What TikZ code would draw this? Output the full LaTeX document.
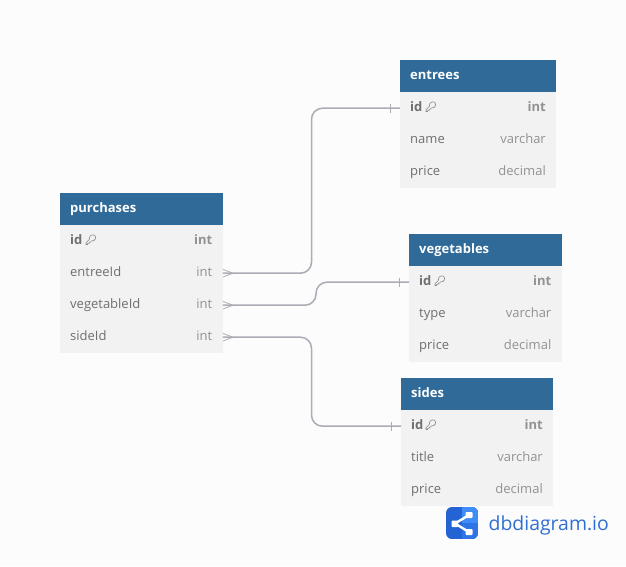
\documentclass[tikz,border=0pt]{standalone}
\usepackage{fontspec}
\setmainfont{Open Sans}
\definecolor{bgc}{HTML}{FCFCFC}
\definecolor{headc}{HTML}{306A99}
\definecolor{bodyc}{HTML}{F2F2F2}
\definecolor{namec}{HTML}{6F6F6F}
\definecolor{typec}{HTML}{929292}
\definecolor{keyc}{HTML}{858585}
\definecolor{linkc}{HTML}{ABACB6}
\definecolor{logoa}{HTML}{2463D3}
\definecolor{logob}{HTML}{2F74E6}
\definecolor{logoc}{HTML}{3F8CF8}
\definecolor{logot}{HTML}{2F6FD3}
\tikzset{
  x=1pt,y=-1pt,
  headbox/.style={fill=headc,draw=none,minimum height=32pt,inner sep=0pt,anchor=north west},
  rowbox/.style={fill=bodyc,draw=none,minimum height=32pt,inner sep=0pt,anchor=north west},
  headtext/.style={text=white,font=\fontsize{13}{13}\selectfont\bfseries,anchor=base west,inner sep=0pt},
  fieldname/.style={text=namec,font=\fontsize{13}{13}\selectfont,anchor=base west,inner sep=0pt},
  fieldtype/.style={text=typec,font=\fontsize{13}{13}\selectfont,anchor=base east,inner sep=0pt},
  keyname/.style={text=namec,font=\fontsize{13}{13}\selectfont\bfseries,anchor=base west,inner sep=0pt},
  keytype/.style={text=typec,font=\fontsize{13}{13}\selectfont\bfseries,anchor=base east,inner sep=0pt},
  link/.style={draw=linkc,line width=1.5pt,rounded corners=11pt},
  endmark/.style={draw=linkc,line width=0.8pt},
}
% key glyph, pic
\tikzset{keyglyph/.pic={
  \draw[keyc,line width=0.6pt,line join=round]
    (-3.4,5) -- (-5,5) -- (-5,3.2) -- (-1.6,-0.2)
    .. controls (-2.2,-4) and (1.8,-5.8) .. (3.8,-4)
    .. controls (5.8,-2) and (3.8,2) .. (0.6,1.4)
    -- (-0.6,2.6) -- (-1.8,2.6) -- (-1.8,3.8) -- (-3.4,3.8) -- cycle;
}}
\newcommand{\dbtable}[5]{% name, x, y, width, title
  \node[headbox,minimum width=#4pt] (#1head) at (#2,#3) {};
  \node[headtext] (#1title) at (#2+10,#3+19) {#5};
}
\newcommand{\dbrow}[8]{% name, x, y, width, namestyle, typestyle, field, type
  \node[rowbox,minimum width=#4pt] (#1) at (#2,#3) {};
  \node[#5] (#1f) at (#2+10,#3+19) {#7};
  \node[#6] (#1t) at (#2+#4-10,#3+19) {#8};
}
\begin{document}
\begin{tikzpicture}
\path[use as bounding box,fill=bgc] (0,0) rectangle (626,566);

% purchases
\dbrow{pid}{60}{225}{162.5}{keyname}{keytype}{id}{int}
\dbrow{pent}{60}{257}{162.5}{fieldname}{fieldtype}{entreeId}{int}
\dbrow{pveg}{60}{289}{162.5}{fieldname}{fieldtype}{vegetableId}{int}
\dbrow{psid}{60}{321}{162.5}{fieldname}{fieldtype}{sideId}{int}
\dbtable{p}{60}{193}{162.5}{purchases}
\pic at (91,239.5) {keyglyph};

% entrees
\dbrow{eid}{400}{92}{156}{keyname}{keytype}{id}{int}
\dbrow{ena}{400}{124}{156}{fieldname}{fieldtype}{name}{varchar}
\dbrow{epr}{400}{156}{156}{fieldname}{fieldtype}{price}{decimal}
\dbtable{e}{400}{60}{156}{entrees}
\pic at (431,106.5) {keyglyph};

% vegetables
\dbrow{vid}{409}{266}{152.5}{keyname}{keytype}{id}{int}
\dbrow{vty}{409}{298}{152.5}{fieldname}{fieldtype}{type}{varchar}
\dbrow{vpr}{409}{330}{152.5}{fieldname}{fieldtype}{price}{decimal}
\dbtable{v}{409}{234}{152.5}{vegetables}
\pic at (440,280.5) {keyglyph};

% sides
\dbrow{sid}{401}{410}{152}{keyname}{keytype}{id}{int}
\dbrow{sti}{401}{442}{152}{fieldname}{fieldtype}{title}{varchar}
\dbrow{spr}{401}{474}{152}{fieldname}{fieldtype}{price}{decimal}
\dbtable{s}{401}{378}{152}{sides}
\pic at (431,424.5) {keyglyph};

% connectors
\draw[link] (pent.east) -- (pent.east -| 311.5,0) -- (311.5,0 |- eid.west) -- (eid.west);
\draw[link] (pveg.east) -- (pveg.east -| 316,0) -- (316,0 |- vid.west) -- (vid.west);
\draw[link] (psid.east) -- (psid.east -| 311.5,0) -- (311.5,0 |- sid.west) -- (sid.west);

% crow's feet
\foreach \n in {pent,pveg,psid}{
  \draw[endmark] ([yshift=3.8pt]\n.east) -- ([xshift=10pt]\n.east) -- ([yshift=-3.8pt]\n.east);
}
% single bars
\foreach \n in {eid,vid,sid}{
  \draw[endmark] ([xshift=-10pt,yshift=4.5pt]\n.west) -- ([xshift=-10pt,yshift=-4.5pt]\n.west);
}

% logo
\begin{scope}
  \clip[rounded corners=6pt] (446,507) rectangle (478,539);
  \fill[logoa] (446,507) rectangle (478,539);
  \fill[logob] (462,507) rectangle (478,539);
  \fill[logoc] (462,507) rectangle (478,523);
\end{scope}
\draw[white,line width=2.4pt] (455,523.5) -- (469,515) (455,523.5) -- (469,532);
\fill[white,rounded corners=0.8pt] (451.5,520.5) rectangle (458,527);
\fill[white,rounded corners=0.8pt] (465.5,512) rectangle (472.5,518);
\fill[white,rounded corners=0.8pt] (465.5,529) rectangle (472.5,535);
\node[anchor=base west,inner sep=0pt,text=logot,font=\fontsize{19.4}{20}\selectfont] (brand) at (488.5,530) {dbdiagram.io};
\end{tikzpicture}
\end{document}
